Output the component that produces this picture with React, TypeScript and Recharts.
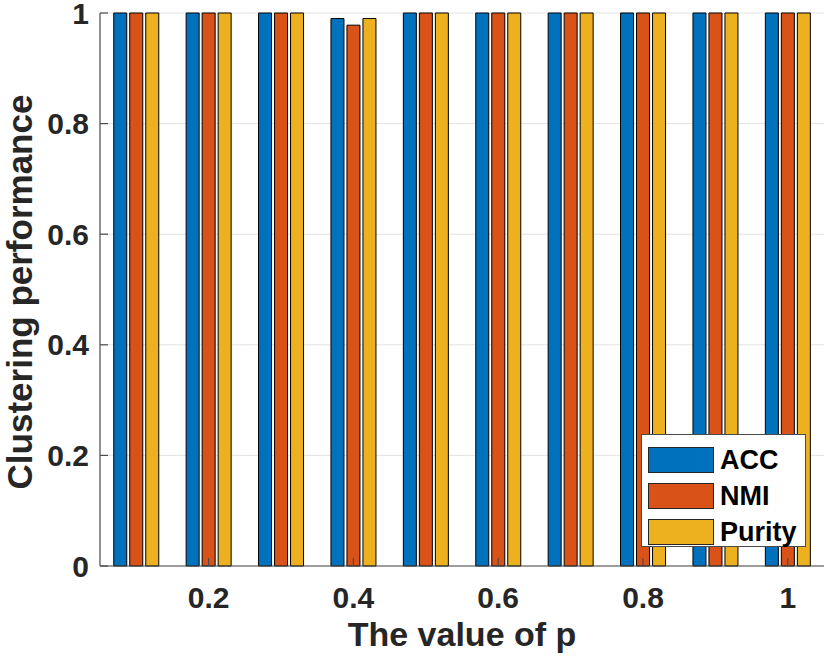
import React from 'react';
import { BarChart, Bar, XAxis, YAxis, CartesianGrid, Legend } from 'recharts';

const P_VALUES = ['0.1', '0.2', '0.3', '0.4', '0.5', '0.6', '0.7', '0.8', '0.9', '1'];
const X_TICKS = ['0.2', '0.4', '0.6', '0.8', '1'];
const Y_TICKS = [0, 0.2, 0.4, 0.6, 0.8, 1];

const ACC = [1, 1, 1, 0.99, 1, 1, 1, 1, 1, 1];
const NMI = [1, 1, 1, 0.978, 1, 1, 1, 1, 1, 1];
const PURITY = [1, 1, 1, 0.99, 1, 1, 1, 1, 1, 1];

const SERIES = [
  { key: 'ACC', color: '#0072BD' },
  { key: 'NMI', color: '#D95319' },
  { key: 'Purity', color: '#EDB120' },
];

const data = P_VALUES.map((p, i) => ({ p, ACC: ACC[i], NMI: NMI[i], Purity: PURITY[i] }));

const FONT = '"Liberation Sans", Arial, Helvetica, sans-serif';
const INK = '#262626';
const AXIS = '#4a4a4a';

// MATLAB style ticks point into the plot box
const BottomTick = (props: any) => {
  const { x, y, payload } = props;
  if (!X_TICKS.includes(payload.value)) return null;
  return (
    <g>
      <line x1={x} y1={y} x2={x} y2={y - 8} stroke={AXIS} strokeWidth={1.2} />
      <text x={x} y={y + 42} textAnchor="middle" fill={INK} fontSize={30} fontWeight="bold" fontFamily={FONT}>
        {payload.value}
      </text>
    </g>
  );
};

const TopTick = (props: any) => {
  const { x, y, payload } = props;
  if (!X_TICKS.includes(payload.value)) return null;
  return <line x1={x} y1={y} x2={x} y2={y + 8} stroke={AXIS} strokeWidth={1.2} />;
};

const LeftTick = (props: any) => {
  const { x, y, payload } = props;
  return (
    <g>
      <line x1={x} y1={y} x2={x + 8} y2={y} stroke={AXIS} strokeWidth={1.2} />
      <text x={x - 11} y={y + 10.5} textAnchor="end" fill={INK} fontSize={30} fontWeight="bold" fontFamily={FONT}>
        {payload.value}
      </text>
    </g>
  );
};

const RightTick = (props: any) => {
  const { x, y } = props;
  return <line x1={x} y1={y} x2={x - 8} y2={y} stroke={AXIS} strokeWidth={1.2} />;
};

const XLabel = () => (
  <text x={462} y={646} textAnchor="middle" fill={INK} fontSize={34} fontWeight="bold" fontFamily={FONT}>
    The value of p
  </text>
);

const YLabel = () => (
  <text
    x={32}
    y={292}
    transform="rotate(-90 32 292)"
    textAnchor="middle"
    fill={INK}
    fontSize={35}
    fontWeight="bold"
    fontFamily={FONT}
  >
    Clustering performance
  </text>
);

const renderLegend = (props: any) => {
  const { payload } = props;
  return (
    <div
      style={{
        width: 165,
        height: 113,
        border: `1px solid ${AXIS}`,
        background: '#fff',
        paddingTop: 7,
        boxSizing: 'border-box',
        fontFamily: FONT,
      }}
    >
      {payload.map((entry: any) => (
        <div key={entry.value} style={{ display: 'flex', alignItems: 'center', height: 36 }}>
          <div
            style={{
              width: 66,
              height: 26,
              marginLeft: 6,
              background: entry.color,
              border: `1px solid ${INK}`,
              boxSizing: 'border-box',
            }}
          />
          <span style={{ marginLeft: 6, fontSize: 27, fontWeight: 'bold', color: '#000' }}>{entry.value}</span>
        </div>
      ))}
    </div>
  );
};

export default function App() {
  return (
    <div style={{ position: 'absolute', left: 0, top: 0, background: '#fff' }}>
      <BarChart
        width={830}
        height={666}
        data={data}
        margin={{ top: 13, right: 6, bottom: 0, left: 10 }}
        barCategoryGap="19%"
        barGap={3}
      >
        <CartesianGrid vertical={false} stroke="#e3e3e3" />
        <XAxis
          dataKey="p"
          interval={0}
          height={100}
          tickSize={0}
          tickMargin={0}
          tick={<BottomTick />}
          axisLine={{ stroke: AXIS, strokeWidth: 1.2 }}
          label={<XLabel />}
        />
        <XAxis
          xAxisId="top"
          dataKey="p"
          orientation="top"
          interval={0}
          height={0}
          tickSize={0}
          tickMargin={0}
          tick={<TopTick />}
          axisLine={{ stroke: AXIS, strokeWidth: 1.2 }}
        />
        <YAxis
          domain={[0, 1]}
          ticks={Y_TICKS}
          width={90}
          tickSize={0}
          tickMargin={0}
          tick={<LeftTick />}
          axisLine={{ stroke: AXIS, strokeWidth: 1.2 }}
          label={<YLabel />}
        />
        <YAxis
          yAxisId="right"
          orientation="right"
          domain={[0, 1]}
          ticks={Y_TICKS}
          width={0}
          tickSize={0}
          tickMargin={0}
          tick={<RightTick />}
          axisLine={{ stroke: AXIS, strokeWidth: 1.2 }}
        />
        <Legend
          layout="vertical"
          align="center"
          verticalAlign="middle"
          content={renderLegend}
          wrapperStyle={{ left: 641, top: 434, width: 165 }}
        />
        {SERIES.map((s) => (
          <Bar key={s.key} dataKey={s.key} fill={s.color} stroke="#000" strokeWidth={1} isAnimationActive={false} />
        ))}
      </BarChart>
    </div>
  );
}
